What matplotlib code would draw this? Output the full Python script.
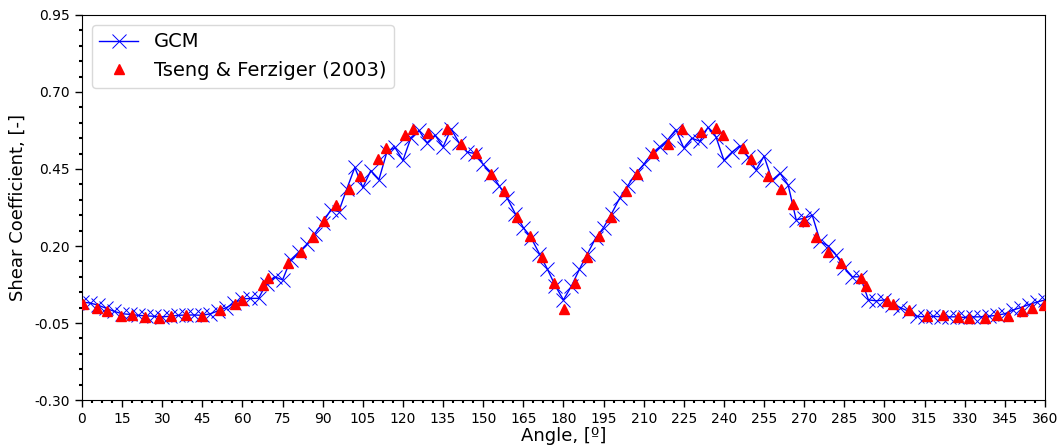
import numpy as np
import matplotlib
matplotlib.use("Agg")
import matplotlib.pyplot as plt
from matplotlib.ticker import AutoMinorLocator, FormatStrFormatter

# ------------------ data ------------------

# GCM shear coefficient, every 3 degrees from 0 to 360
gcm_angle = np.arange(0, 361, 3)
gcm_shear = [
    0.018, 0.015, 0.008, -0.002, -0.012, -0.020, -0.022, -0.025, -0.027, -0.028,
    -0.030, -0.028, -0.025, -0.024, -0.024, -0.025, -0.020, -0.010, 0.000, 0.015,
    0.028, 0.030, 0.030, 0.078, 0.100, 0.090, 0.155, 0.180, 0.205, 0.240,
    0.275, 0.317, 0.312, 0.385, 0.455, 0.390, 0.445, 0.415, 0.505, 0.520,
    0.478, 0.552, 0.575, 0.535, 0.560, 0.522, 0.580, 0.535, 0.505, 0.500,
    0.465, 0.435, 0.395, 0.355, 0.305, 0.260, 0.225, 0.175, 0.125, 0.070,
    0.025, 0.070, 0.125, 0.175, 0.225, 0.260, 0.305, 0.355, 0.395, 0.435,
    0.465, 0.500, 0.522, 0.545, 0.578, 0.518, 0.550, 0.540, 0.585, 0.555,
    0.478, 0.505, 0.525, 0.490, 0.447, 0.492, 0.414, 0.436, 0.398, 0.285,
    0.290, 0.300, 0.215, 0.200, 0.170, 0.130, 0.100, 0.100, 0.025, 0.022,
    0.025, 0.010, 0.000, -0.012, -0.028, -0.030, -0.028, -0.030, -0.030, -0.030,
    -0.032, -0.030, -0.030, -0.028, -0.025, -0.020, -0.008, 0.000, 0.010, 0.018,
    0.025,
]

# Tseng & Ferziger (2003)
ref_angle = [
    0.4, 5.7, 9.5, 14.5, 18.8, 23.4, 28.8, 33.4, 38.8, 44.9,
    51.5, 57.3, 59.8, 67.7, 69.5, 77.1, 81.9, 86.5, 90.5, 95.0,
    99.8, 103.9, 110.5, 113.6, 120.7, 123.9, 129.2, 136.3, 141.7, 147.2,
    153.1, 157.6, 162.7, 167.6, 171.8, 176.3, 180.3, 184.5, 188.8, 193.3,
    197.8, 203.5, 207.5, 213.6, 219.2, 224.5, 231.4, 237.0, 239.7, 247.0,
    250.1, 256.6, 261.2, 265.7, 270.0, 274.6, 279.0, 283.7, 291.1, 293.1,
    300.8, 303.3, 309.3, 316.0, 322.0, 327.4, 331.7, 337.6, 341.9, 346.3,
    351.3, 355.0, 359.8,
]
ref_shear = [
    0.011, 0.000, -0.011, -0.026, -0.024, -0.030, -0.033, -0.028, -0.024, -0.026,
    -0.007, 0.013, 0.024, 0.073, 0.095, 0.144, 0.182, 0.228, 0.281, 0.334,
    0.384, 0.428, 0.481, 0.517, 0.560, 0.580, 0.568, 0.580, 0.531, 0.501,
    0.434, 0.379, 0.293, 0.232, 0.163, 0.079, -0.006, 0.079, 0.163, 0.232,
    0.293, 0.379, 0.434, 0.501, 0.530, 0.579, 0.569, 0.582, 0.560, 0.519,
    0.481, 0.427, 0.384, 0.335, 0.281, 0.230, 0.182, 0.144, 0.095, 0.071,
    0.022, 0.011, -0.008, -0.026, -0.024, -0.030, -0.035, -0.033, -0.024, -0.026,
    -0.011, 0.000, 0.008,
]

x_ticks = np.arange(0, 361, 15)
y_ticks = [-0.30, -0.05, 0.20, 0.45, 0.70, 0.95]

# ------------------ plot ------------------

fig = plt.figure(figsize=(10.63, 4.46), dpi=100)
ax = fig.add_axes([0.0771, 0.1031, 0.9059, 0.8633])

ax.plot(gcm_angle, gcm_shear, color="b", linewidth=1.0, marker="x",
        markersize=10, markeredgewidth=0.7, label="GCM", zorder=2)
ax.plot(ref_angle, ref_shear, linestyle="none", marker="^", color="red",
        markersize=7, label="Tseng & Ferziger (2003)", zorder=3)

ax.set_xlim(0, 360)
ax.set_ylim(-0.30, 0.95)
ax.set_xticks(x_ticks)
ax.set_yticks(y_ticks)
ax.yaxis.set_major_formatter(FormatStrFormatter("%.2f"))
ax.xaxis.set_minor_locator(AutoMinorLocator())
ax.yaxis.set_minor_locator(AutoMinorLocator())

ax.tick_params(axis="both", which="major", labelsize=10, length=5, width=1)
ax.tick_params(axis="both", which="minor", length=2.5, width=1.5)

ax.set_xlabel("Angle, [º]", fontsize=13, labelpad=1)
ax.set_ylabel("Shear Coefficient, [-]", fontsize=13, labelpad=6)

ax.legend(loc="upper left", fontsize=14, handlelength=2.0,
          borderaxespad=0.5, framealpha=1, edgecolor="#d9d9d9")

fig.savefig("out.png", dpi=100)
